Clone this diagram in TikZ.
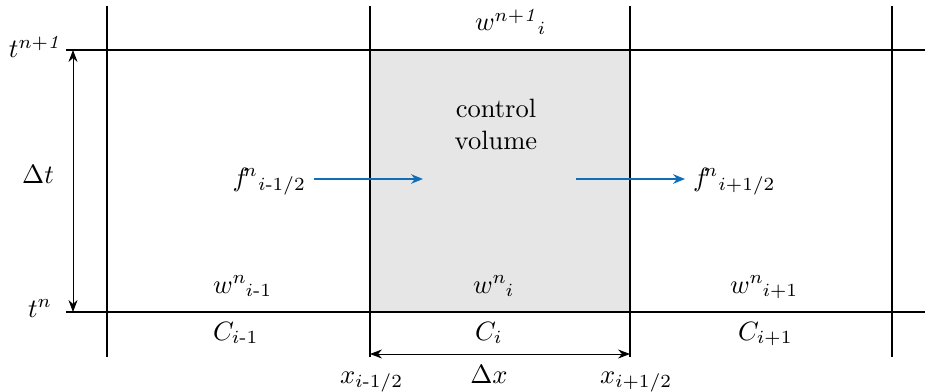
\documentclass[tikz,border=0pt]{standalone}
\usepackage{amsmath}
\usetikzlibrary{arrows.meta}
\definecolor{fluxblue}{RGB}{16,110,185}
\definecolor{cvgray}{RGB}{230,230,230}
\tikzset{
  grid line/.style={draw=black, line width=0.45pt},
  flux arrow/.style={draw=fluxblue, line width=0.7pt, -{Stealth[length=4.5pt,width=3.6pt]}},
  dim arrow/.style={draw=black, line width=0.35pt, {Stealth[length=4.5pt,width=3.4pt]}-{Stealth[length=4.5pt,width=3.4pt]}},
  lbl/.style={inner sep=0pt, outer sep=0pt}
}
\newcommand{\hy}{\text{-}}
\begin{document}
\begin{tikzpicture}[x=0.377pt, y=-0.377pt]
\useasboundingbox (0,0) rectangle (925,392);
% control volume
\fill[cvgray] (370,50) rectangle (630,312);
% coordinates
\coordinate (v1t) at (107,6);   \coordinate (v1b) at (107,357);
\coordinate (v2t) at (370,6);   \coordinate (v2b) at (370,357);
\coordinate (v3t) at (630,6);   \coordinate (v3b) at (630,357);
\coordinate (v4t) at (892,6);   \coordinate (v4b) at (892,357);
\coordinate (htl) at (66,50);   \coordinate (htr) at (925,50);
\coordinate (hbl) at (66,312);  \coordinate (hbr) at (925,312);
\draw[grid line] (v1t) -- (v1b);
\draw[grid line] (v2t) -- (v2b);
\draw[grid line] (v3t) -- (v3b);
\draw[grid line] (v4t) -- (v4b);
\draw[grid line] (htl) -- (htr);
\draw[grid line] (hbl) -- (hbr);
% dimension arrows
\coordinate (dtt) at (73,50); \coordinate (dtb) at (73,312);
\draw[dim arrow] (dtb) -- (dtt);
\coordinate (dxl) at (370,354); \coordinate (dxr) at (630,354);
\draw[dim arrow] (dxl) -- (dxr);
% time labels
\node[lbl, anchor=base west] (tn1) at (9,58) {$t^{n+\mathit{1}}$};
\node[lbl, anchor=base] (dt) at (38,183) {$\Delta t$};
\node[lbl, anchor=base west] (tn) at (28,317) {$t^{n}$};
% control volume text
\node[lbl, align=center, anchor=base] (cv) at (496,149) {control\\volume};
% states
\node[lbl, anchor=base west] (wtop) at (475,31) {$w^{n+\mathit{1}}\mkern-1mu{}_{i}$};
\node[lbl, anchor=base west] (wim) at (213,293) {$w^{n}\mkern-1mu{}_{i\hy 1}$};
\node[lbl, anchor=base west] (wi) at (473,293) {$w^{n}\mkern-1mu{}_{i}$};
\node[lbl, anchor=base west] (wip) at (730,293) {$w^{n}\mkern-1mu{}_{i+1}$};
% cells
\node[lbl, anchor=base west] (cim) at (213,340) {$C_{i\hy 1}$};
\node[lbl, anchor=base west] (ci) at (475,340) {$C_{i}$};
\node[lbl, anchor=base west] (cip) at (738,340) {$C_{i+1}$};
% interfaces
\node[lbl, anchor=base west] (xim) at (340,383) {$x_{i\hy 1/2}$};
\node[lbl, anchor=base] (dx) at (489,383) {$\Delta x$};
\node[lbl, anchor=base west] (xip) at (600,383) {$x_{i+1/2}$};
% fluxes
\node[lbl, anchor=base east] (fim) at (306,186) {$f^{\mkern-4mu n}{}_{i\hy 1/2}$};
\node[lbl, anchor=base west] (fip) at (693,186) {$f^{\mkern-4mu n}{}_{i+1/2}$};
\coordinate (faL) at (423,179);
\coordinate (fbR) at (576,179);
\draw[flux arrow] ([xshift=3pt]fim.east |- faL) -- (faL);
\draw[flux arrow] (fbR) -- ([xshift=-3pt]fip.west |- fbR);
\end{tikzpicture}
\end{document}
